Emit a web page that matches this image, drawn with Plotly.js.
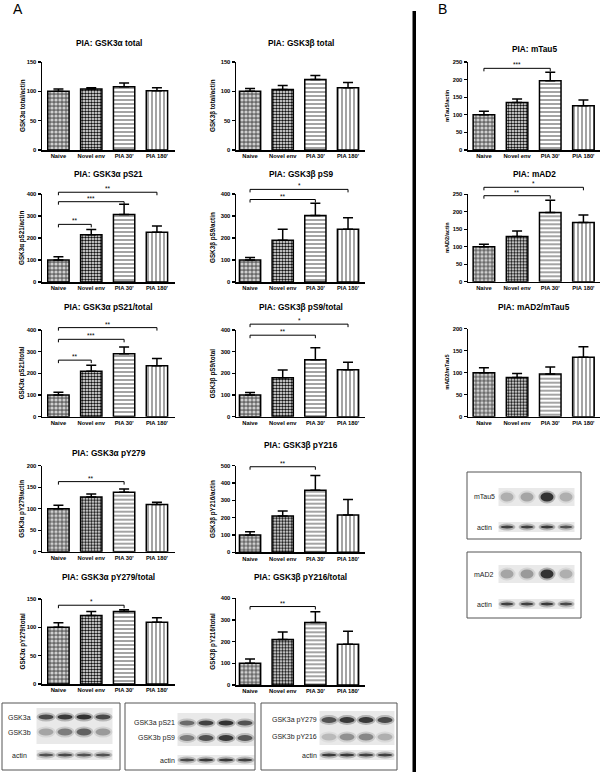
<!DOCTYPE html>
<html><head><meta charset="utf-8">
<script src="https://cdn.plot.ly/plotly-3.0.1.min.js"></script>
<style>html,body{margin:0;padding:0;background:#fff}#c{width:600px;height:772px}</style>
</head><body><div id="c"></div>
<script>
// ---------- data ----------
const categories = ["Naive","Novel env","PIA 30'","PIA 180'"];

const gsk3aTotal = [100,104,108,101];       const gsk3aTotalErr = [4,2,6,5];
const gsk3bTotal = [100,103,120,106];       const gsk3bTotalErr = [5,7,7,9];
const gsk3aPS21 = [100,215,307,226];        const gsk3aPS21Err = [15,24,46,28];
const gsk3bPS9 = [100,190,302,240];         const gsk3bPS9Err = [11,50,56,52];
const gsk3aPS21Tot = [100,210,290,235];     const gsk3aPS21TotErr = [13,27,32,34];
const gsk3bPS9Tot = [100,180,263,217];      const gsk3bPS9TotErr = [12,35,55,34];
const gsk3aPY279 = [100,127,138,110];       const gsk3aPY279Err = [8,7,8,5];
const gsk3bPY216 = [100,210,358,215];       const gsk3bPY216Err = [18,29,86,90];
const gsk3aPY279Tot = [100,121,128,109];    const gsk3aPY279TotErr = [8,7,3,8];
const gsk3bPY216Tot = [100,210,288,188];    const gsk3bPY216TotErr = [20,35,50,60];
const mTau5 = [100,135,197,126];            const mTau5Err = [10,10,24,16];
const mAD2 = [100,129,198,169];             const mAD2Err = [7,16,35,22];
const mAD2mTau5 = [100,89,97,135];          const mAD2mTau5Err = [11,9,16,24];

// significance brackets: [from, to, bracket level (data units), label]
const sigPS21 = [[0,1,262,'**'],[0,2,365,'***'],[0,3,408,'**']];
const sigPS9 = [[0,2,375,'**'],[0,3,421,'*']];
const sigPS21Tot = [[0,1,261,'**'],[0,2,357,'***'],[0,3,411,'**']];
const sigPS9Tot = [[0,2,376,'**'],[0,3,427,'*']];
const sigPY279 = [[0,2,163,'**']];
const sigPY216 = [[0,2,494,'**']];
const sigPY279Tot = [[0,2,139,'*']];
const sigPY216Tot = [[0,2,362,'**']];
const sigMTau5 = [[0,2,232,'***']];
const sigMAD2 = [[0,2,246,'**'],[0,3,270,'*']];

// western blot band intensities (per lane)
const blotGSK3a = [0.8,0.9,0.95,0.8];
const blotGSK3b = [0.3,0.5,0.65,0.35];
const blotActin1 = [0.75,0.8,0.75,0.75];
const blotPS21 = [0.6,0.85,0.95,0.75];
const blotPS9 = [0.5,0.75,0.9,0.7];
const blotActin2 = [0.8,0.9,0.9,0.85];
const blotPY279 = [0.75,0.9,0.9,0.8];
const blotPY216 = [0.2,0.4,0.45,0.25];
const blotActin3 = [0.9,0.9,0.85,0.85];
const blotMTau5 = [0.25,0.3,0.95,0.25];
const blotActin4 = [0.85,0.85,0.9,0.75];
const blotMAD2 = [0.3,0.35,0.95,0.25];
const blotActin5 = [0.85,0.85,0.9,0.8];

// ---------- layout helpers ----------
const W = 600, H = 772;
const P = x => x / W, Q = y => 1 - y / H;
const FONT = "Liberation Sans, Arial, Helvetica, sans-serif";

const L = {x0:42, x1:175, xr:[-0.5,3.55], ytx:22};
const R = {x0:236, x1:365, xr:[-0.43,3.52], ytx:213};
const B = {x0:468, x1:600, xr:[-0.48,3.5], ytx:447};

const charts = [
  {c:L, t:"PIA: GSK3α total", yt:"GSK3α total/actin", y:gsk3aTotal, e:gsk3aTotalErr, s:[], r:150, d:50, top:62, bot:150, ty:43},
  {c:R, t:"PIA: GSK3β total", yt:"GSK3β total/actin", y:gsk3bTotal, e:gsk3bTotalErr, s:[], r:150, d:50, top:62, bot:150, ty:43},
  {c:L, t:"PIA: GSK3α pS21", yt:"GSK3α pS21/actin", y:gsk3aPS21, e:gsk3aPS21Err, s:sigPS21, r:400, d:100, top:194, bot:282, ty:174},
  {c:R, t:"PIA: GSK3β pS9", yt:"GSK3β pS9/actin", y:gsk3bPS9, e:gsk3bPS9Err, s:sigPS9, r:400, d:100, top:194, bot:282, ty:174},
  {c:L, t:"PIA: GSK3α pS21/total", yt:"GSK3α pS21/total", y:gsk3aPS21Tot, e:gsk3aPS21TotErr, s:sigPS21Tot, r:400, d:100, top:330, bot:416.7, ty:306.7},
  {c:R, t:"PIA: GSK3β pS9/total", yt:"GSK3β pS9/total", y:gsk3bPS9Tot, e:gsk3bPS9TotErr, s:sigPS9Tot, r:400, d:100, top:330, bot:416.7, ty:306.7},
  {c:L, t:"PIA: GSK3α pY279", yt:"GSK3α pY279/actin", y:gsk3aPY279, e:gsk3aPY279Err, s:sigPY279, r:200, d:50, top:465.7, bot:551.7, ty:453},
  {c:R, t:"PIA: GSK3β pY216", yt:"GSK3β pY216/actin", y:gsk3bPY216, e:gsk3bPY216Err, s:sigPY216, r:500, d:100, top:465.7, bot:552.3, ty:445},
  {c:L, t:"PIA: GSK3α pY279/total", yt:"GSK3α pY279/total", y:gsk3aPY279Tot, e:gsk3aPY279TotErr, s:sigPY279Tot, r:150, d:50, top:599, bot:684, ty:576.7},
  {c:R, t:"PIA: GSK3β pY216/total", yt:"GSK3β pY216/total", y:gsk3bPY216Tot, e:gsk3bPY216TotErr, s:sigPY216Tot, r:400, d:100, top:598.3, bot:685, ty:576.7},
  {c:B, t:"PIA: mTau5", yt:"mTau5/actin", y:mTau5, e:mTau5Err, s:sigMTau5, r:250, d:50, top:62, bot:150, ty:49},
  {c:B, t:"PIA: mAD2", yt:"mAD2/actin", y:mAD2, e:mAD2Err, s:sigMAD2, r:250, d:50, top:194.3, bot:281.7, ty:174},
  {c:B, t:"PIA: mAD2/mTau5", yt:"mAD2/mTau5", y:mAD2mTau5, e:mAD2mTau5Err, s:[], r:200, d:50, top:328.7, bot:416.7, ty:306.7}
];

// bar fill styles per category
const styles = [
  {shape:'.', fg:'#cfcfcf', bg:'#6a6a6a', size:4, sol:0.5},
  {shape:'.', fg:'#111111', bg:'#ffffff', size:3, sol:0.55},
  {shape:'-', fg:'#9a9a9a', bg:'#ffffff', size:4, sol:0.45},
  {shape:'|', fg:'#9a9a9a', bg:'#ffffff', size:4, sol:0.45}
];

const data = [];
const layout = {
  width: W, height: H, margin: {l:0, r:0, t:0, b:0}, barmode: 'overlay',
  paper_bgcolor: '#fff', plot_bgcolor: 'rgba(0,0,0,0)',
  showlegend: false, font: {family: FONT, color: '#000'},
  shapes: [], annotations: []
};

charts.forEach((ch, i) => {
  const n = i + 1;
  const xa = 'x' + n, ya = 'y' + n;
  const c = ch.c;
  const hpx = ch.bot - ch.top;
  layout['xaxis' + n] = {
    domain: [P(c.x0), P(c.x1)], range: c.xr, anchor: ya, type: 'category',
    categoryorder: 'array', categoryarray: categories,
    showline: true, linecolor: '#000', linewidth: 1.5, ticks: '', showgrid: false, zeroline: false,
    tickfont: {family: FONT, size: 5.8, weight: 'bold'}, fixedrange: true
  };
  layout['yaxis' + n] = {
    domain: [Q(ch.bot), Q(ch.top)], range: [0, ch.r], anchor: xa, tick0: 0, dtick: ch.d,
    showline: true, linecolor: '#000', linewidth: 1.5, ticks: 'outside', ticklen: 3, tickwidth: 1.2,
    tickcolor: '#000', showgrid: false, zeroline: false,
    tickfont: {family: FONT, size: 5.8, weight: 'bold'}, fixedrange: true
  };
  categories.forEach((cat, k) => {
    const st = styles[k];
    data.push({
      type: 'bar', x: [cat], y: [ch.y[k]], xaxis: xa, yaxis: ya, width: 0.65,
      marker: {
        color: st.bg, line: {color: '#000', width: 1.5},
        pattern: {shape: st.shape, fgcolor: st.fg, bgcolor: st.bg, size: st.size, solidity: st.sol}
      },
      error_y: {type: 'data', symmetric: false, array: [ch.e[k]], arrayminus: [0],
                color: '#000', thickness: 1.5, width: 5}
    });
  });
  // title
  layout.annotations.push({
    xref: 'paper', yref: 'paper', x: P((c.x0 + c.x1) / 2), y: Q(ch.ty), text: ch.t,
    showarrow: false, xanchor: 'center', yanchor: 'middle',
    font: {family: FONT, size: 8.3, weight: 'bold'}
  });
  // y title
  layout.annotations.push({
    xref: 'paper', yref: 'paper', x: P(c.ytx), y: Q((ch.top + ch.bot) / 2), text: ch.yt,
    showarrow: false, textangle: -90, xanchor: 'center', yanchor: 'middle',
    font: {family: FONT, size: c === B ? 5.6 : 6.3, weight: 'bold'}
  });
  // significance brackets
  const tick = 3 / hpx;
  ch.s.forEach(sg => {
    const f = sg[2] / ch.r;
    const ln = {color: '#000', width: 1};
    const yr = ya + ' domain';
    layout.shapes.push({type: 'line', xref: xa, yref: yr, x0: sg[0], x1: sg[1], y0: f, y1: f, line: ln});
    layout.shapes.push({type: 'line', xref: xa, yref: yr, x0: sg[0], x1: sg[0], y0: f, y1: f - tick, line: ln});
    layout.shapes.push({type: 'line', xref: xa, yref: yr, x0: sg[1], x1: sg[1], y0: f, y1: f - tick, line: ln});
    layout.annotations.push({xref: xa, yref: yr, x: (sg[0] + sg[1]) / 2, y: f, yanchor: 'bottom',
      text: sg[3], showarrow: false, yshift: -2, font: {family: FONT, size: 6.5}});
  });
});

// panel letters
layout.annotations.push({xref:'paper', yref:'paper', x:P(18), y:Q(9), text:'A', showarrow:false,
  font:{family:FONT, size:14}, xanchor:'center', yanchor:'middle'});
layout.annotations.push({xref:'paper', yref:'paper', x:P(442), y:Q(9), text:'B', showarrow:false,
  font:{family:FONT, size:14}, xanchor:'center', yanchor:'middle'});
// separator bar
layout.shapes.push({type:'rect', xref:'paper', yref:'paper', x0:P(412.5), x1:P(416), y0:Q(11), y1:Q(772),
  fillcolor:'#000', line:{width:0}});

// ---------- western blot panels ----------
function blot(box, lanes, rows) {
  layout.shapes.push({type:'rect', xref:'paper', yref:'paper', x0:P(box[0]), x1:P(box[2]), y0:Q(box[1]), y1:Q(box[3]),
    fillcolor:'rgba(0,0,0,0)', line:{color:'#555', width:1}});
  rows.forEach(rw => {
    if (rw.bg) {
      layout.shapes.push({type:'rect', xref:'paper', yref:'paper', layer:'below',
        x0:P(lanes[0] - rw.w/2 - 2), x1:P(lanes[3] + rw.w/2 + 2), y0:Q(rw.bg[0]), y1:Q(rw.bg[1]),
        fillcolor:'#e9e9e9', line:{width:0}});
    }
    layout.annotations.push({xref:'paper', yref:'paper', x:P(rw.lx), y:Q(rw.y), text:rw.label,
      showarrow:false, xanchor:rw.anchor || 'center', yanchor:'middle',
      font:{family:FONT, size:7, color:'#222'}});
    rw.v.forEach((a, k) => {
      const cx = lanes[k];
      layout.shapes.push({type:'circle', xref:'paper', yref:'paper',
        x0:P(cx - rw.w/2 - 2), x1:P(cx + rw.w/2 + 2), y0:Q(rw.y - rw.h/2 - 2), y1:Q(rw.y + rw.h/2 + 2),
        fillcolor:`rgba(30,30,30,${(a*0.3).toFixed(3)})`, line:{width:0}});
      layout.shapes.push({type:'circle', xref:'paper', yref:'paper',
        x0:P(cx - rw.w/2), x1:P(cx + rw.w/2), y0:Q(rw.y - rw.h/2), y1:Q(rw.y + rw.h/2),
        fillcolor:`rgba(20,20,20,${(a*0.85).toFixed(3)})`, line:{width:0}});
    });
  });
}

blot([2,703,120,770], [46,65,84,103], [
  {label:'GSK3a', lx:19, y:717, w:15, h:5, v:blotGSK3a, bg:[708,744]},
  {label:'GSK3b', lx:19, y:732, w:15, h:7, v:blotGSK3b},
  {label:'actin', lx:19, y:755, w:15, h:3, v:blotActin1, bg:[750,760]}
]);
blot([125,703,255,770], [187,206,226,245], [
  {label:'GSK3a pS21', lx:177, y:723, w:15, h:5, v:blotPS21, anchor:'right', bg:[713,746]},
  {label:'GSK3b pS9', lx:177, y:738, w:15, h:6, v:blotPS9, anchor:'right'},
  {label:'actin', lx:177, y:760, w:15, h:3, v:blotActin2, anchor:'right', bg:[755,765]}
]);
blot([261,703,397,770], [329,347,366,385], [
  {label:'GSK3a pY279', lx:319, y:720, w:15, h:6, v:blotPY279, anchor:'right', bg:[711,745]},
  {label:'GSK3b pY216', lx:319, y:737, w:15, h:7, v:blotPY216, anchor:'right'},
  {label:'actin', lx:319, y:755, w:15, h:3, v:blotActin3, anchor:'right', bg:[750,760]}
]);
blot([467,472,581,539], [507,527,547,566], [
  {label:'mTau5', lx:484, y:497, w:13, h:9, v:blotMTau5, bg:[488,506]},
  {label:'actin', lx:484, y:527, w:13, h:3, v:blotActin4, bg:[522,532]}
]);
blot([467,552,581,618], [507,527,547,566], [
  {label:'mAD2', lx:484, y:574, w:13, h:9, v:blotMAD2, bg:[565,583]},
  {label:'actin', lx:484, y:604, w:13, h:3, v:blotActin5, bg:[599,609]}
]);

Plotly.newPlot('c', data, layout, {staticPlot: true, displayModeBar: false});
</script>
</body></html>
